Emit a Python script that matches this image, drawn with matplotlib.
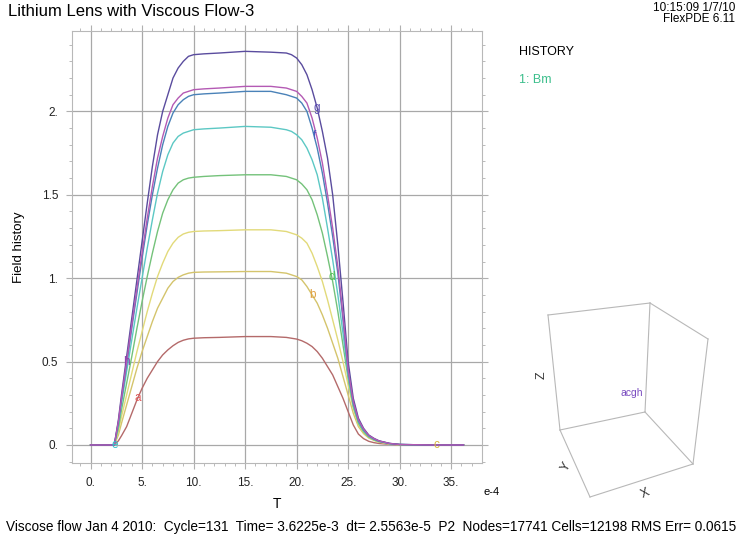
import matplotlib
matplotlib.use("Agg")
import matplotlib.pyplot as plt
from matplotlib.lines import Line2D
import numpy as np

plt.rcParams['font.family'] = ['Liberation Sans', 'DejaVu Sans']

# ---- data (time in units of 1e-4) ----
T = [0, 2.3, 2.7, 3, 3.5, 4, 4.5, 5, 5.5, 6, 6.5, 7, 7.5, 8, 8.5, 9, 9.5, 10, 11, 12.5,
     15, 17.5, 19, 19.5, 20, 20.5, 21, 21.5, 22, 22.5, 23, 23.5, 24, 24.5, 25, 25.5,
     26, 26.5, 27, 27.5, 28, 29, 30, 33, 36.2]

curve_a = [0, 0, 0.025, 0.055, 0.11, 0.19, 0.27, 0.34, 0.40, 0.45, 0.50, 0.54, 0.57, 0.595, 0.615,
           0.628, 0.636, 0.64, 0.643, 0.645, 0.65, 0.65, 0.645, 0.64, 0.635, 0.625, 0.61, 0.59,
           0.56, 0.52, 0.47, 0.42, 0.35, 0.28, 0.20, 0.12, 0.065, 0.038, 0.022, 0.014, 0.009,
           0.004, 0.001, 0, 0]
curve_b = [0, 0, 0.06, 0.13, 0.24, 0.35, 0.46, 0.56, 0.65, 0.74, 0.82, 0.88, 0.94, 0.98, 1.005,
           1.02, 1.03, 1.035, 1.037, 1.038, 1.04, 1.04, 1.03, 1.02, 1.01, 0.99, 0.95, 0.90,
           0.85, 0.78, 0.70, 0.61, 0.52, 0.41, 0.30, 0.19, 0.11, 0.068, 0.042, 0.028, 0.017,
           0.006, 0.002, 0, 0]
curve_c = [0, 0, 0.08, 0.17, 0.30, 0.43, 0.56, 0.68, 0.80, 0.91, 1.01, 1.09, 1.16, 1.21, 1.245,
           1.265, 1.275, 1.28, 1.283, 1.285, 1.29, 1.29, 1.28, 1.27, 1.26, 1.24, 1.21, 1.15,
           1.07, 0.98, 0.87, 0.75, 0.63, 0.50, 0.36, 0.22, 0.12, 0.075, 0.045, 0.03, 0.018,
           0.007, 0.002, 0, 0]
curve_d = [0, 0, 0.10, 0.21, 0.37, 0.53, 0.70, 0.86, 1.01, 1.15, 1.28, 1.39, 1.47, 1.53, 1.57,
           1.59, 1.60, 1.605, 1.61, 1.615, 1.62, 1.62, 1.61, 1.60, 1.59, 1.565, 1.53, 1.47,
           1.38, 1.27, 1.13, 0.98, 0.80, 0.60, 0.40, 0.23, 0.13, 0.08, 0.048, 0.031, 0.02,
           0.008, 0.002, 0, 0]
curve_e = [0, 0, 0.12, 0.25, 0.44, 0.63, 0.82, 1.00, 1.18, 1.35, 1.51, 1.64, 1.74, 1.81, 1.85,
           1.87, 1.88, 1.89, 1.895, 1.90, 1.91, 1.905, 1.89, 1.88, 1.86, 1.83, 1.78, 1.71,
           1.62, 1.48, 1.30, 1.11, 0.90, 0.67, 0.42, 0.24, 0.14, 0.085, 0.052, 0.034, 0.022,
           0.008, 0.003, 0, 0]
curve_f = [0, 0, 0.135, 0.27, 0.48, 0.70, 0.91, 1.12, 1.32, 1.50, 1.66, 1.80, 1.91, 1.99, 2.04,
           2.07, 2.09, 2.10, 2.105, 2.11, 2.12, 2.12, 2.10, 2.09, 2.08, 2.05, 2.00, 1.90,
           1.78, 1.63, 1.45, 1.25, 1.03, 0.75, 0.44, 0.25, 0.145, 0.09, 0.055, 0.036, 0.023,
           0.009, 0.003, 0, 0]
curve_g = [0, 0, 0.15, 0.30, 0.53, 0.76, 0.99, 1.22, 1.45, 1.67, 1.86, 2.00, 2.10, 2.20, 2.26,
           2.30, 2.33, 2.34, 2.345, 2.35, 2.36, 2.355, 2.35, 2.34, 2.32, 2.28, 2.22, 2.13,
           2.02, 1.88, 1.72, 1.50, 1.20, 0.86, 0.50, 0.28, 0.16, 0.10, 0.06, 0.04, 0.025,
           0.01, 0.003, 0, 0]
curve_h = [0, 0, 0.14, 0.28, 0.50, 0.72, 0.94, 1.15, 1.36, 1.55, 1.72, 1.85, 1.96, 2.04, 2.08,
           2.11, 2.12, 2.13, 2.135, 2.14, 2.15, 2.15, 2.14, 2.13, 2.12, 2.09, 2.05, 1.96,
           1.84, 1.69, 1.50, 1.30, 1.07, 0.78, 0.45, 0.26, 0.15, 0.095, 0.057, 0.038, 0.024,
           0.009, 0.003, 0, 0]

names = ['a', 'b', 'c', 'd', 'e', 'f', 'g', 'h']
series = [curve_a, curve_b, curve_c, curve_d, curve_e, curve_f, curve_g, curve_h]
line_colors = ['#b46a6a', '#d4c46c', '#e2da7a', '#74c27a', '#5cc8c4', '#4a82b8', '#5a4c9e', '#b45ab4']
label_colors = ['#e05a5a', '#e0a040', '#d8b840', '#50c050', '#30c0c8', '#4a5cc0', '#5a4cb0', '#9040b0']
# times where each curve's letter sits
label_t = [4.6, 21.5, 33.6, 23.4, 2.3, 21.7, 22.0, 3.5]

xticks = [0, 5, 10, 15, 20, 25, 30, 35]
xticklabels = ['0.', '5.', '10.', '15.', '20.', '25.', '30.', '35.']
yticks = [0, 0.5, 1, 1.5, 2]
yticklabels = ['0.', '0.5', '1.', '1.5', '2.']

fig = plt.figure(figsize=(7.38, 5.40), dpi=100)
ax = fig.add_axes([0.0976, 0.1426, 0.5556, 0.800])

grid_c = '#a8a8a8'
for xt in xticks:
    ax.axvline(xt, color=grid_c, lw=0.9, zorder=0)
for yt in yticks:
    ax.axhline(yt, color=grid_c, lw=0.9, zorder=0)

for name, y, lc, tc, tl in zip(names, series, line_colors, label_colors, label_t):
    ax.plot(T, y, color=lc, lw=1.0, zorder=2)
    yl = float(np.interp(tl, T, y))
    ax.text(tl, yl, name, color=tc, fontsize=8.5, ha='center', va='center', zorder=3)

ax.set_xlim(-1.8, 38.0)
ax.set_ylim(-0.108, 2.482)
ax.set_xticks(xticks)
ax.set_xticklabels(xticklabels, fontsize=8.5)
ax.set_yticks(yticks)
ax.set_yticklabels(yticklabels, fontsize=8.5)
ax.set_xticks(np.arange(-1, 38, 1), minor=True)
ax.set_yticks(np.arange(-0.1, 2.5, 0.1), minor=True)
for s in ax.spines.values():
    s.set_color('#b8b8b8')
    s.set_linewidth(0.8)
ax.tick_params(which='both', colors='#b0b0b0', labelcolor='#222222', direction='out',
               top=True, right=True)
ax.tick_params(which='major', length=4, pad=6)
ax.tick_params(which='minor', length=2)

ax.set_xlabel('T', fontsize=10, labelpad=6)
ax.set_ylabel('Field history', fontsize=9.5, labelpad=12)
fig.text(484/738, 1 - 492/540, 'e-4', fontsize=8, ha='left', va='center')

fig.text(8/738, 1 - 12/540, 'Lithium Lens with Viscous Flow-3', fontsize=12,
         ha='left', va='center')
fig.text(735/738, 1 - 8/540, '10:15:09 1/7/10', fontsize=8.5, ha='right', va='center')
fig.text(735/738, 1 - 19/540, 'FlexPDE 6.11', fontsize=8.5, ha='right', va='center')
fig.text(519/738, 1 - 52/540, 'HISTORY', fontsize=9, ha='left', va='center')
fig.text(519/738, 1 - 80/540, '1: Bm', fontsize=9, color='#3cbf8c', ha='left', va='center')
fig.text(6/738, 1 - 527/540,
         'Viscose flow Jan 4 2010:  Cycle=131  Time= 3.6225e-3  dt= 2.5563e-5  P2  '
         'Nodes=17741 Cells=12198 RMS Err= 0.0615',
         fontsize=9.85, ha='left', va='center')

# ---- 3D orientation box (decoration, in pixel coordinates) ----
bax = fig.add_axes([0, 0, 1, 1], facecolor='none')
bax.set_xlim(0, 738)
bax.set_ylim(540, 0)
bax.axis('off')
P = {'btl': (548, 315), 'btr': (650, 303), 'ftr': (708, 339), 'ibr': (645, 412),
     'fbr': (693, 464), 'bbl': (560, 430), 'fbl': (590, 497)}
edges = [('btl', 'btr'), ('btl', 'bbl'), ('btr', 'ibr'), ('btr', 'ftr'), ('ftr', 'fbr'),
         ('ibr', 'bbl'), ('ibr', 'fbr'), ('bbl', 'fbl'), ('fbl', 'fbr')]
for a_, b_ in edges:
    bax.add_line(Line2D([P[a_][0], P[b_][0]], [P[a_][1], P[b_][1]], color='#b8b8b8', lw=0.8))
bax.text(542, 375, 'Z', fontsize=9, rotation=90, ha='center', va='center', color='#333333')
bax.text(566, 467, 'Y', fontsize=9, rotation=60, ha='center', va='center', color='#333333')
bax.text(645, 494, 'X', fontsize=9, rotation=25, ha='center', va='center', color='#333333')
bax.text(632, 393, 'acgh', fontsize=7.5, color='#7a4cc0', ha='center', va='center')

fig.savefig('out.png', dpi=100)
